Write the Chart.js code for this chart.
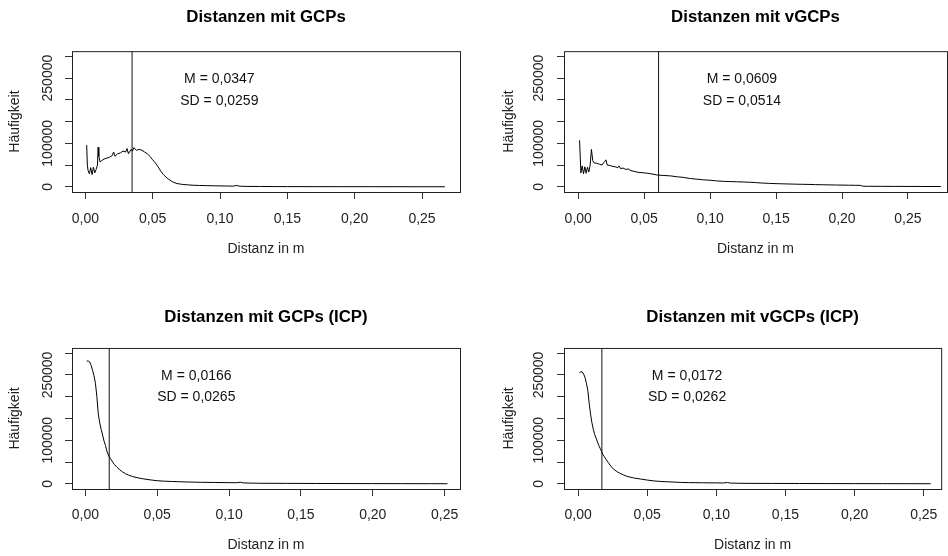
<!DOCTYPE html>
<html><head><meta charset="utf-8">
<script src="https://cdn.jsdelivr.net/npm/chart.js@4.4.1/dist/chart.umd.min.js"></script>
<style>
html,body{margin:0;padding:0;background:#fff;overflow:hidden;width:948px;height:556px;position:relative;}
canvas{position:absolute;}
</style></head><body>
<canvas id="c0" width="474" height="278" style="left:0;top:0"></canvas>
<canvas id="c1" width="474" height="278" style="left:474px;top:0"></canvas>
<canvas id="c2" width="474" height="278" style="left:0;top:278px"></canvas>
<canvas id="c3" width="474" height="278" style="left:474px;top:278px"></canvas>
<script>
// ---- data ----
const panelTitles = ['Distanzen mit GCPs', 'Distanzen mit vGCPs', 'Distanzen mit GCPs (ICP)', 'Distanzen mit vGCPs (ICP)'];
const xAxisTitle = 'Distanz in m';
const yAxisTitle = 'Häufigkeit';
const xTickValues = [0, 0.05, 0.10, 0.15, 0.20, 0.25];
const xTickLabels = ['0,00', '0,05', '0,10', '0,15', '0,20', '0,25'];
const yTickValues = [0, 50000, 100000, 150000, 200000, 250000, 300000];
const yTickLabels = ['0', '', '100000', '', '', '250000', ''];
const meanValues = [0.0347, 0.0609, 0.0166, 0.0172];
const meanLabels = ['M = 0,0347', 'M = 0,0609', 'M = 0,0166', 'M = 0,0172'];
const sdLabels = ['SD = 0,0259', 'SD = 0,0514', 'SD = 0,0265', 'SD = 0,0262'];

const distGCP = [0.001,0.0015,0.002,0.003,0.004,0.005,0.006,0.007,0.008,0.009,0.0095,0.010,0.011,0.012,0.014,0.016,0.018,0.020,0.021,0.022,0.024,0.026,0.028,0.030,0.031,0.032,0.034,0.035,0.036,0.038,0.040,0.042,0.044,0.046,0.048,0.050,0.052,0.054,0.056,0.058,0.060,0.062,0.065,0.068,0.072,0.076,0.080,0.085,0.090,0.095,0.100,0.105,0.110,0.112,0.115,0.120,0.130,0.140,0.150,0.170,0.190,0.210,0.230,0.250,0.267];
const countGCP = [96000,50000,38000,30000,44000,28000,45000,32000,40000,50000,91000,70000,57000,60000,64000,66000,68000,72000,80000,70000,76000,78000,82000,80000,88000,76000,86000,82000,90000,84000,86000,84000,80000,76000,70000,62000,55000,46000,36000,28000,22000,17000,11000,7500,5500,4500,3500,3000,2600,2300,2000,1800,1500,3000,1200,900,700,500,400,300,250,200,150,100,50];

const distVGCP = [0.001,0.002,0.003,0.004,0.005,0.006,0.007,0.008,0.009,0.010,0.011,0.012,0.014,0.016,0.018,0.020,0.021,0.022,0.024,0.026,0.028,0.030,0.031,0.032,0.034,0.036,0.038,0.040,0.043,0.046,0.050,0.055,0.060,0.065,0.070,0.075,0.080,0.085,0.090,0.095,0.100,0.105,0.110,0.115,0.120,0.125,0.130,0.135,0.140,0.145,0.150,0.155,0.160,0.165,0.170,0.175,0.180,0.185,0.190,0.195,0.200,0.205,0.210,0.214,0.216,0.220,0.230,0.240,0.250,0.260,0.275];
const countVGCP = [107000,32000,48000,30000,46000,31000,45000,34000,50000,86000,60000,55000,54000,52000,50000,58000,62000,50000,49000,47000,46000,44000,48000,42000,43000,40000,41000,37000,35000,33000,32000,30000,27000,26000,25000,23000,21500,19000,17500,16000,15000,13500,12500,12000,11500,11000,10500,9500,8500,7800,7200,6800,6400,6000,5700,5400,5000,4700,4400,4100,3900,3600,3400,3200,1200,1100,1000,900,800,700,600];

const distGCPICP = [0.001,0.002,0.003,0.004,0.005,0.006,0.007,0.008,0.009,0.010,0.011,0.012,0.013,0.014,0.015,0.016,0.017,0.018,0.019,0.020,0.022,0.024,0.026,0.028,0.030,0.033,0.036,0.040,0.045,0.050,0.055,0.060,0.065,0.070,0.075,0.080,0.090,0.100,0.105,0.108,0.110,0.115,0.120,0.140,0.160,0.180,0.200,0.220,0.240,0.252];
const countGCPICP = [282000,282000,280000,272000,261000,248000,231000,200000,160000,140000,125000,112000,98000,88000,75000,66000,60000,55000,50000,45000,38000,32000,27000,23000,20000,16500,14000,11500,9000,7000,6000,5300,4800,4200,3800,3400,3000,2600,2400,3500,2000,1500,1200,900,700,500,400,300,200,100];

const distVGCPICP = [0.001,0.002,0.003,0.004,0.005,0.006,0.007,0.008,0.009,0.010,0.011,0.012,0.013,0.014,0.015,0.016,0.017,0.018,0.019,0.020,0.022,0.024,0.026,0.028,0.030,0.033,0.036,0.040,0.045,0.050,0.055,0.060,0.065,0.070,0.075,0.080,0.090,0.100,0.105,0.108,0.110,0.115,0.120,0.140,0.160,0.180,0.200,0.220,0.240,0.255];
const countVGCPICP = [255000,257000,257000,252000,244000,231000,215000,185000,160000,140000,125000,113000,105000,96000,88000,81000,74000,67000,62000,57000,48000,39000,33000,28000,24500,20000,16500,13500,11000,8500,6500,5300,4500,3800,3000,2700,2300,2000,1800,3000,1600,1300,1000,800,600,450,350,250,200,100];

const seriesX = [distGCP, distVGCP, distGCPICP, distVGCPICP];
const seriesY = [countGCP, countVGCP, countGCPICP, countVGCPICP];
const annX = [0.0995, 0.1241, 0.0772, 0.0788];
const annY = [247000, 198000];
const yLimits = [-12000, 312000];
const xLimits = [[-0.0099, 0.2782], [-0.0108, 0.2796], [-0.0093, 0.2607], [-0.0102, 0.2626]];

// ---- layout / style ----
const FONT = '"Liberation Sans", Arial, sans-serif';
const layoutCfg = [
  {left: 72, right: 460, titleTop: 7, titleBottom: 24, yTitlePad: 6.6, yTickPad: -6.6, xH: 86, xTitlePad: 20.6, xTickPad: 11.6},
  {left: 90, right: 473, titleTop: 7, titleBottom: 24, yTitlePad: 26.6, yTickPad: -5.3, xH: 86, xTitlePad: 20.6, xTickPad: 11.6},
  {left: 72, right: 460, titleTop: 29.2, titleBottom: 20.6, yTitlePad: 6.6, yTickPad: -6.6, xH: 67, xTitlePad: 2.6, xTickPad: 10.3},
  {left: 90, right: 473, titleTop: 29.2, titleBottom: 20.6, yTitlePad: 26.6, yTickPad: -5.3, xH: 67, xTitlePad: 2.6, xTickPad: 10.3}
];

const boxPlugin = {
  id: 'rbox',
  afterDatasetsDraw(chart, args, opts) {
    const {ctx, chartArea: a} = chart;
    ctx.save();
    ctx.strokeStyle = '#222';
    ctx.lineWidth = 1;
    ctx.strokeRect(a.left + 0.5, a.top + 0.5, a.right - a.left, a.bottom - a.top);
    const xs = chart.scales.x, ys = chart.scales.y;
    ctx.fillStyle = '#111';
    ctx.font = '14px ' + FONT;
    ctx.textAlign = 'center';
    ctx.textBaseline = 'middle';
    (opts.texts || []).forEach(t => ctx.fillText(t.text, xs.getPixelForValue(t.x), ys.getPixelForValue(t.y)));
    ctx.restore();
  }
};

for (let i = 0; i < 4; i++) {
  const L = layoutCfg[i];
  const pts = seriesX[i].map((x, k) => ({x: x, y: seriesY[i][k]}));
  new Chart(document.getElementById('c' + i), {
    type: 'line',
    data: {
      datasets: [
        {data: pts, borderColor: '#000', borderWidth: 1, pointRadius: 0, tension: 0, fill: false},
        {data: [{x: meanValues[i], y: yLimits[0]}, {x: meanValues[i], y: yLimits[1]}], borderColor: '#111', borderWidth: 1, pointRadius: 0, fill: false}
      ]
    },
    options: {
      responsive: false, animation: false, devicePixelRatio: 1,
      layout: {padding: {left: 0, right: 474 - L.right, top: 0, bottom: 0}},
      plugins: {
        legend: {display: false}, tooltip: {enabled: false},
        title: {display: true, text: panelTitles[i], fullSize: false, color: '#000',
          font: {family: FONT, size: 16.8, weight: 'bold'}, padding: {top: L.titleTop, bottom: L.titleBottom}},
        rbox: {texts: [{text: meanLabels[i], x: annX[i], y: annY[0]}, {text: sdLabels[i], x: annX[i], y: annY[1]}]}
      },
      scales: {
        x: {
          type: 'linear', min: xLimits[i][0], max: xLimits[i][1],
          afterBuildTicks: s => { s.ticks = xTickValues.map(v => ({value: v})); },
          afterFit: s => { s.height = L.xH; },
          ticks: {autoSkip: false, maxRotation: 0, minRotation: 0, padding: L.xTickPad, color: '#222',
            font: {family: FONT, size: 14}, callback: (v, idx) => xTickLabels[idx]},
          grid: {drawOnChartArea: false, drawTicks: true, tickLength: 7, color: '#333'},
          border: {display: false},
          title: {display: true, text: xAxisTitle, color: '#222', font: {family: FONT, size: 14}, padding: {top: 0, bottom: L.xTitlePad}}
        },
        y: {
          type: 'linear', min: yLimits[0], max: yLimits[1],
          afterBuildTicks: s => { s.ticks = yTickValues.map(v => ({value: v})); },
          afterFit: s => { s.width = L.left; },
          ticks: {autoSkip: false, minRotation: 90, maxRotation: 90, crossAlign: 'center', padding: L.yTickPad, color: '#222',
            font: {family: FONT, size: 14}, callback: (v, idx) => yTickLabels[idx]},
          grid: {drawOnChartArea: false, drawTicks: true, tickLength: 7, color: '#333'},
          border: {display: false},
          title: {display: true, text: yAxisTitle, color: '#222', font: {family: FONT, size: 14}, padding: {top: L.yTitlePad, bottom: 0}}
        }
      }
    },
    plugins: [boxPlugin]
  });
}
</script>
</body></html>
